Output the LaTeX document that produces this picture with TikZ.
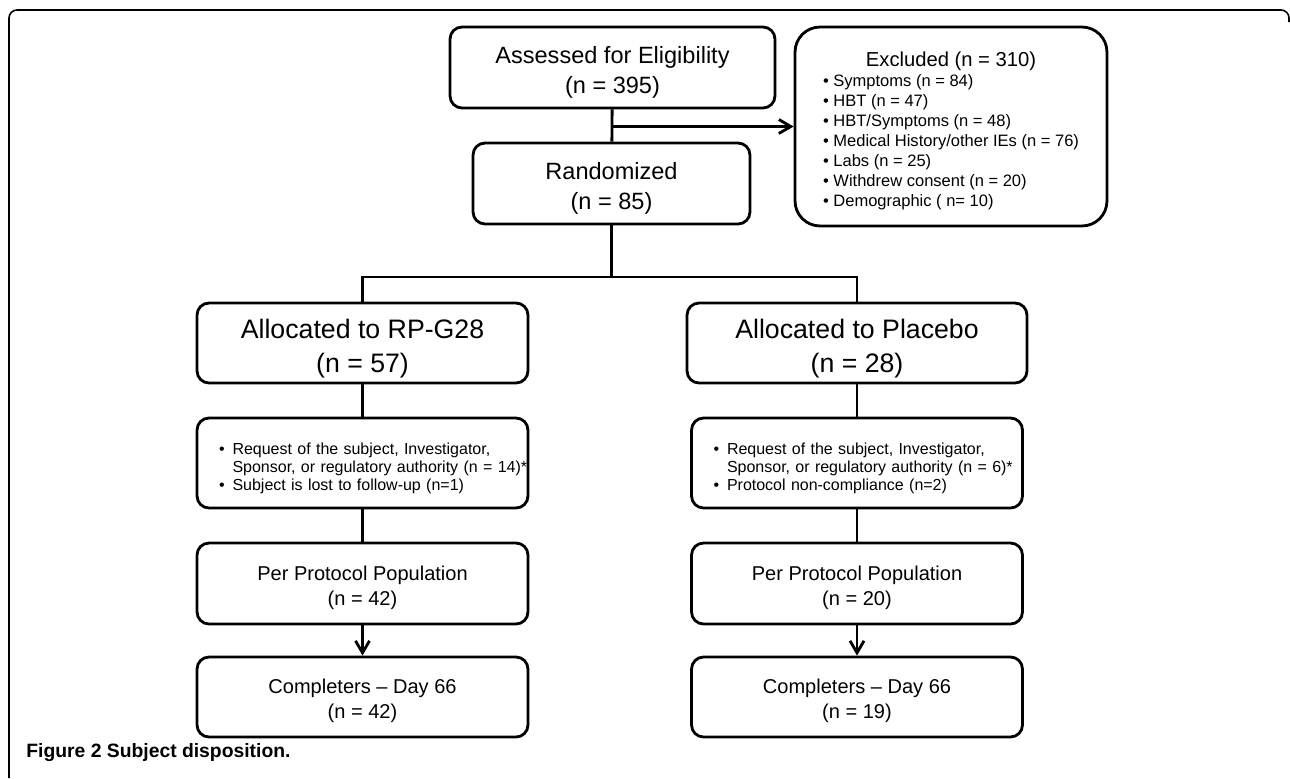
\documentclass[tikz,border=0pt]{standalone}
\usepackage{fontspec}
\setmainfont{Liberation Sans}
\usetikzlibrary{arrows.meta, positioning, calc}

\newcommand{\fsz}[2]{\fontsize{#1}{#2}\selectfont}
\newcommand{\topstrut}{\rule{0pt}{1.15em}}

\begin{document}
\begin{tikzpicture}[
        x=0.02cm, y=-0.02cm,
        >={Straight Barb[length=2.4mm, width=2.8mm]},
        box/.style={draw, line width=1.6pt, rounded corners=0.24cm, align=center, inner sep=0pt, minimum width=6.62cm, minimum height=1.62cm},
        big_box/.style={box, font=\fsz{13.4}{17}},
        alloc_box/.style={box, minimum height=1.6cm, font=\fsz{15.2}{19}},
        count_box/.style={box, font=\fsz{11.4}{14.2}},
        reason_box/.style={box, minimum height=1.8cm, inner xsep=0.44cm, text width=5.74cm, align=left, font=\fsz{9.1}{10}},
        flow_line/.style={line width=1.6pt},
        flow_arrow/.style={line width=1.6pt, ->}
        ]
        \useasboundingbox (0,0) rectangle (1290,778);

        % Frame
        \draw[line width=0.9pt, rounded corners=0.16cm] (9,778) -- (9,10) -- (1289,10) -- (1289,22);

        % Screening
        \node[big_box, minimum width=6.5cm] (assess) at (612.5,67.5) {\topstrut Assessed for Eligibility\\(n = 395)};
        \node[big_box, minimum width=5.54cm] (rand) at (611.5,183.5) {\topstrut Randomized\\(n = 85)};
        \node[box, rounded corners=0.5cm, minimum width=6.24cm, minimum height=3.98cm, font=\fsz{9.4}{11.3}] (excl) at (951,126.5) {%
            \begin{tabular}{@{}l@{}}
            \multicolumn{1}{@{}c@{}}{\fsz{11.5}{14}\rule{0pt}{14.6pt}Excluded (n = 310)}\\[0.2pt]
            \textbullet\ Symptoms (n = 84)\\
            \textbullet\ HBT (n = 47)\\
            \textbullet\ HBT/Symptoms (n = 48)\\
            \textbullet\ Medical History/other IEs (n = 76)\\
            \textbullet\ Labs (n = 25)\\
            \textbullet\ Withdrew consent (n = 20)\\
            \textbullet\ Demographic ( n= 10)
            \end{tabular}};

        % Arms
        \node[alloc_box] (allocA) at (362.5,343) {\topstrut Allocated to RP-G28\\(n = 57)};
        \node[alloc_box, minimum width=6.8cm] (allocP) at (857,343) {\topstrut Allocated to Placebo\\(n = 28)};

        \node[reason_box] (whyA) at (362.5,463) {%
            \begin{tabular}{@{}l@{\hspace{4.5pt}}l@{}}
            \rule{0pt}{13.8pt}\textbullet & Request of the subject, Investigator,\\
                        & Sponsor, or regulatory authority (n = 14)*\\
            \textbullet & Subject is lost to follow-up (n=1)
            \end{tabular}};
        \node[reason_box] (whyP) at (857,463) {%
            \begin{tabular}{@{}l@{\hspace{4.5pt}}l@{}}
            \rule{0pt}{13.8pt}\textbullet & Request of the subject, Investigator,\\
                        & Sponsor, or regulatory authority (n = 6)*\\
            \textbullet & Protocol non-compliance (n=2)
            \end{tabular}};

        \node[count_box] (ppA) at (362.5,583.5) {\topstrut Per Protocol Population\\(n = 42)};
        \node[count_box] (ppP) at (857,583.5) {\topstrut Per Protocol Population\\(n = 20)};

        \node[count_box, minimum height=1.6cm] (compA) at (362.5,697) {\topstrut Completers -- Day 66\\(n = 42)};
        \node[count_box, minimum height=1.6cm] (compP) at (857,697) {\topstrut Completers -- Day 66\\(n = 19)};

        % Connectors
        \coordinate (fork) at (611.5,277);
        \draw[flow_line] (assess) -- (rand);
        \draw[flow_arrow] (assess.south |- excl.west) -- (excl.west);
        \draw[flow_line] (rand.south) -- (fork);
        \draw[flow_line] (allocA.north) |- (fork) -| (allocP.north);
        \draw[flow_line] (allocA) -- (whyA);
        \draw[flow_line] (allocP) -- (whyP);
        \draw[flow_line] (whyA) -- (ppA);
        \draw[flow_line] (whyP) -- (ppP);
        \draw[flow_arrow] (ppA) -- (compA);
        \draw[flow_arrow] (ppP) -- (compP);

        % Caption
        \node[anchor=base west, inner sep=0pt, font=\fsz{11}{13}\bfseries] (caption) at (26,757) {Figure 2 Subject disposition.};
    \end{tikzpicture}
\end{document}
